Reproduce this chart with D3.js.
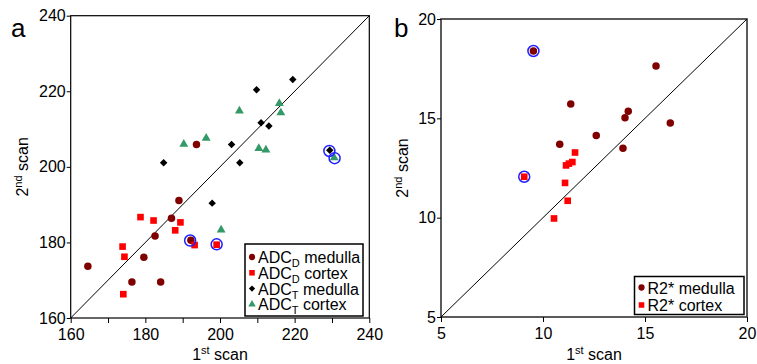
<!DOCTYPE html>
<html>
<head>
<meta charset="utf-8">
<style>
  body { margin: 0; background: #fff; }
  svg { font-family: "Liberation Sans", Arial, sans-serif; }
  .tick text { font-size: 16px; fill: #000; }
</style>
<script src="https://d3js.org/d3.v7.min.js"></script>
</head>
<body>
<script>
// panel a: ADC, 1st scan vs 2nd scan
var adcDMedX = [164.6, 176.4, 184.1, 179.6, 182.6, 187.0, 189.0, 192.2, 193.7];
var adcDMedY = [173.7, 169.5, 169.5, 176.1, 181.7, 186.4, 191.1, 180.6, 205.9];
var adcDCorX = [173.9, 174.4, 174.1, 178.7, 182.2, 188.0, 189.4, 193.2, 199.1];
var adcDCorY = [178.9, 176.2, 166.3, 186.7, 185.8, 183.2, 185.3, 179.3, 179.4];
var adcTMedX = [184.9, 209.8, 219.5, 211.0, 213.1, 203.1, 205.3, 229.4, 197.9];
var adcTMedY = [201.1, 220.4, 223.1, 211.7, 210.8, 205.9, 201.1, 204.4, 190.4];
var adcTCorX = [190.3, 196.3, 205.2, 215.9, 216.3, 210.4, 212.3, 230.6, 200.3];
var adcTCorY = [206.0, 207.6, 214.8, 216.8, 214.3, 204.9, 204.5, 202.4, 183.3];
var adcOutX = [192.0, 199.1, 229.3, 230.7];
var adcOutY = [180.5, 179.5, 204.2, 202.3];
var adcTicks = [160, 180, 200, 220, 240];
var adcMinorX = [160, 170, 180, 190, 200, 210, 220, 230, 240];

// panel b: R2*
var r2MedX = [9.53, 15.54, 11.36, 14.18, 14.02, 16.24, 12.61, 10.82, 13.92];
var r2MedY = [18.39, 17.63, 15.72, 15.36, 15.03, 14.76, 14.14, 13.70, 13.50];
var r2CorX = [9.08, 11.57, 11.44, 11.13, 11.27, 11.08, 11.21, 10.54];
var r2CorY = [12.06, 13.28, 12.80, 12.63, 12.72, 11.75, 10.85, 9.96];
var r2OutX = [9.53, 9.08];
var r2OutY = [18.39, 12.06];
var r2Ticks = [5, 10, 15, 20];

var colMed = "#800000", colCor = "#ff0000", colTMed = "#000000", colTCor = "#339966", colOut = "#1f1fff";

var svg = d3.select("body").append("svg").attr("width", 757).attr("height", 364);

function zip(xs, ys) { return xs.map(function(v, i) { return {x: v, y: ys[i]}; }); }

function panel(opt) {
  var x = d3.scaleLinear().domain(opt.domain).range([opt.left, opt.right]);
  var y = d3.scaleLinear().domain(opt.domain).range([opt.bottom, opt.top]);
  var g = svg.append("g");

  g.append("rect")
      .attr("x", opt.left).attr("y", opt.top)
      .attr("width", opt.right - opt.left).attr("height", opt.bottom - opt.top)
      .attr("fill", "none").attr("stroke", opt.frame).attr("stroke-width", opt.frameW);

  var xa = g.append("g").attr("transform", "translate(0," + opt.bottom + ")")
      .call(d3.axisBottom(x).tickValues(opt.xTicks).tickSize(5).tickPadding(2)
        .tickFormat(function(d) { return opt.ticks.indexOf(d) >= 0 ? d : ""; }));
  var ya = g.append("g").attr("transform", "translate(" + opt.left + ",0)")
      .call(d3.axisLeft(y).tickValues(opt.ticks).tickSize(4).tickPadding(1));
  [xa, ya].forEach(function(a) {
    a.select(".domain").remove();
    a.selectAll("line").attr("stroke", "#000");
  });
  xa.selectAll("text").attr("dy", "0.95em");

  // identity line
  g.append("line")
      .attr("x1", x(opt.domain[0])).attr("y1", y(opt.domain[0]))
      .attr("x2", x(opt.domain[1])).attr("y2", y(opt.domain[1]))
      .attr("stroke", "#000").attr("stroke-width", 1);

  opt.series.forEach(function(s) {
    g.append("g").selectAll("path").data(zip(s.x, s.y)).join("path")
        .attr("transform", function(d) { return "translate(" + x(d.x) + "," + y(d.y) + ") rotate(" + (s.rot || 0) + ")"; })
        .attr("d", d3.symbol().type(s.type).size(s.size))
        .attr("fill", s.color);
  });

  g.append("g").selectAll("circle").data(zip(opt.outX, opt.outY)).join("circle")
      .attr("cx", function(d) { return x(d.x); })
      .attr("cy", function(d) { return y(d.y); })
      .attr("r", 5.5).attr("fill", "none").attr("stroke", colOut).attr("stroke-width", 1.5);

  // axis titles
  var xt = g.append("text").attr("x", (opt.left + opt.right) / 2).attr("y", 360)
      .attr("text-anchor", "middle").attr("font-size", 16);
  xt.append("tspan").text("1");
  xt.append("tspan").attr("font-size", 11).attr("dy", -6).text("st");
  xt.append("tspan").attr("dy", 6).text(" scan");

  var yt = g.append("text")
      .attr("transform", "translate(" + opt.ylabX + "," + (opt.top + opt.bottom) / 2 + ") rotate(-90)")
      .attr("text-anchor", "middle").attr("font-size", 16);
  yt.append("tspan").text("2");
  yt.append("tspan").attr("font-size", 11).attr("dy", -6).text("nd");
  yt.append("tspan").attr("dy", 6).text(" scan");

  g.append("text").attr("x", opt.letterX).attr("y", 37).attr("font-size", 26).text(opt.letter);

  // legend
  var lg = g.append("g");
  lg.append("rect").attr("x", opt.leg.x).attr("y", opt.leg.y)
      .attr("width", opt.leg.w).attr("height", opt.leg.h)
      .attr("fill", "#fff").attr("stroke", "#000").attr("stroke-width", 1.5);
  opt.series.forEach(function(s, i) {
    var cy = opt.leg.y + opt.leg.row0 + i * opt.leg.dy;
    lg.append("path").attr("transform", "translate(" + (opt.leg.x + 7) + "," + cy + ") rotate(" + (s.rot || 0) + ")")
        .attr("d", d3.symbol().type(s.type).size(s.size * 0.7)).attr("fill", s.color);
    var t = lg.append("text").attr("x", opt.leg.x + 13).attr("y", cy + 6).attr("font-size", opt.leg.fs);
    t.append("tspan").text(s.label[0]);
    if (s.label[1]) {
      t.append("tspan").attr("font-size", 11).attr("dy", 4).text(s.label[1]);
      t.append("tspan").attr("dy", -4).text(" " + s.label[2]);
    } else {
      t.append("tspan").text(" " + s.label[2]);
    }
  });
}

panel({
  domain: [160, 240], left: 70.7, right: 369.3, top: 15.7, bottom: 318,
  ticks: adcTicks, xTicks: adcMinorX, frame: "#000", frameW: 1.2,
  outX: adcOutX, outY: adcOutY, ylabX: 28, letter: "a", letterX: 11,
  leg: {x: 245, y: 244, w: 118, h: 72, row0: 13, dy: 15.8, fs: 16},
  series: [
    {x: adcDMedX, y: adcDMedY, type: d3.symbolCircle, size: 44, color: colMed, label: ["ADC", "D", "medulla"]},
    {x: adcDCorX, y: adcDCorY, type: d3.symbolSquare, size: 44, color: colCor, label: ["ADC", "D", "cortex"]},
    {x: adcTMedX, y: adcTMedY, type: d3.symbolSquare, size: 28, rot: 45, color: colTMed, label: ["ADC", "T", "medulla"]},
    {x: adcTCorX, y: adcTCorY, type: d3.symbolTriangle, size: 34, color: colTCor, label: ["ADC", "T", "cortex"]}
  ]
});

panel({
  domain: [5, 20], left: 441, right: 747, top: 19, bottom: 317,
  ticks: r2Ticks, xTicks: r2Ticks, frame: "#333", frameW: 1.6,
  outX: r2OutX, outY: r2OutY, ylabX: 408, letter: "b", letterX: 394,
  leg: {x: 634.5, y: 276.5, w: 109.5, h: 38, row0: 11, dy: 17.5, fs: 16},
  series: [
    {x: r2MedX, y: r2MedY, type: d3.symbolCircle, size: 44, color: colMed, label: ["R2*", null, "medulla"]},
    {x: r2CorX, y: r2CorY, type: d3.symbolSquare, size: 44, color: colCor, label: ["R2*", null, "cortex"]}
  ]
});
</script>
</body>
</html>
